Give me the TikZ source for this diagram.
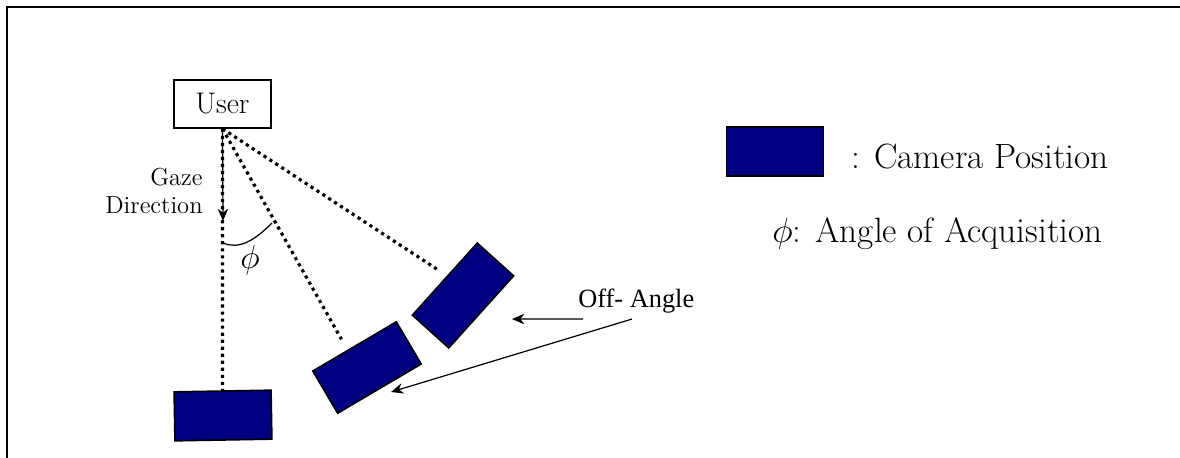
\documentclass[tikz,border=0pt]{standalone}
\usepackage{fix-cm}
\usepackage{fontspec}
\newfontfamily\timesfont{Liberation Serif}
\usetikzlibrary{arrows.meta, calc}
\definecolor{camblue}{RGB}{0,0,128}
\newcommand\legfont{\fontsize{20}{23}\selectfont}

\begin{document}
\begin{tikzpicture}[>=Stealth, x=0.02cm, y=-0.02cm,
  cam/.style={draw, line width=0.9pt, fill=camblue, minimum width=1.94cm,
              minimum height=0.98cm, inner sep=0},
  dotline/.style={line width=1.8pt, dash pattern=on 1.8pt off 2.2pt},
  tip/.style={-{Stealth[length=7pt, width=6pt]}, line width=0.7pt}]
  \useasboundingbox (0,0) rectangle (1180,457);

  % Frame
  \draw[line width=1.1pt] (7,470) -- (7,7) -- (1190,7);

  % User and cameras
  \node[draw, line width=0.9pt, minimum width=1.94cm, minimum height=0.96cm,
        font=\fontsize{17}{20}\selectfont] (user) at (222.5,104) {User};
  \node[cam, rotate=1] (cam1) at (223,415.5) {};
  \node[cam, rotate=30.5] (cam2) at (367,367.5) {};
  \node[cam, rotate=48] (cam3) at (463,295.5) {};

  % Lines of sight
  \draw[dotline] (user.south) -- (cam1.north);
  \draw[dotline, shorten >=0.24cm] (user.south)
    -- ($(cam2.north west)!0.42!(cam2.north east)$);
  \draw[dotline, shorten >=0.18cm] (user.south)
    -- ($(cam3.north west)!0.54!(cam3.north east)$);

  % Gaze direction
  \coordinate (gz) at (223,221);
  \draw[tip] (user.south) -- (gz);
  \node[align=right, anchor=east, inner sep=0,
        font=\fontsize{14}{15.5}\selectfont] (gaze) at (203,191) {Gaze\\Direction};

  % Angle of acquisition
  \coordinate (a0) at (223,243);
  \coordinate (a1) at (272,223);
  \draw[line width=0.7pt] (a0) .. controls (238,249) and (252,243) .. (a1);
  \node[font=\fontsize{19}{21}\selectfont] (phi) at (250,260) {$\phi$};

  % Off-angle
  \node[anchor=base west, inner sep=0, font=\timesfont\fontsize{15}{17}\selectfont]
    (off) at (578,307) {Off- Angle};
  \coordinate (t1) at (512,319);
  \coordinate (t2) at (391,392);
  \draw[tip] ($(off.south west)+(5,6)$) -- (t1);
  \draw[tip] ($(off.south west)+(54,6)$) -- (t2);

  % Legend
  \node[cam] (leg) at (775,151.5) {};
  \node[anchor=base west, inner sep=0, font=\legfont] (legcam) at (851,168)
    {:\hspace{0.4em}Camera Position};
  \node[anchor=base west, inner sep=0, font=\legfont] (legphi) at (772,242)
    {$\phi$: Angle of Acquisition};
\end{tikzpicture}
\end{document}
